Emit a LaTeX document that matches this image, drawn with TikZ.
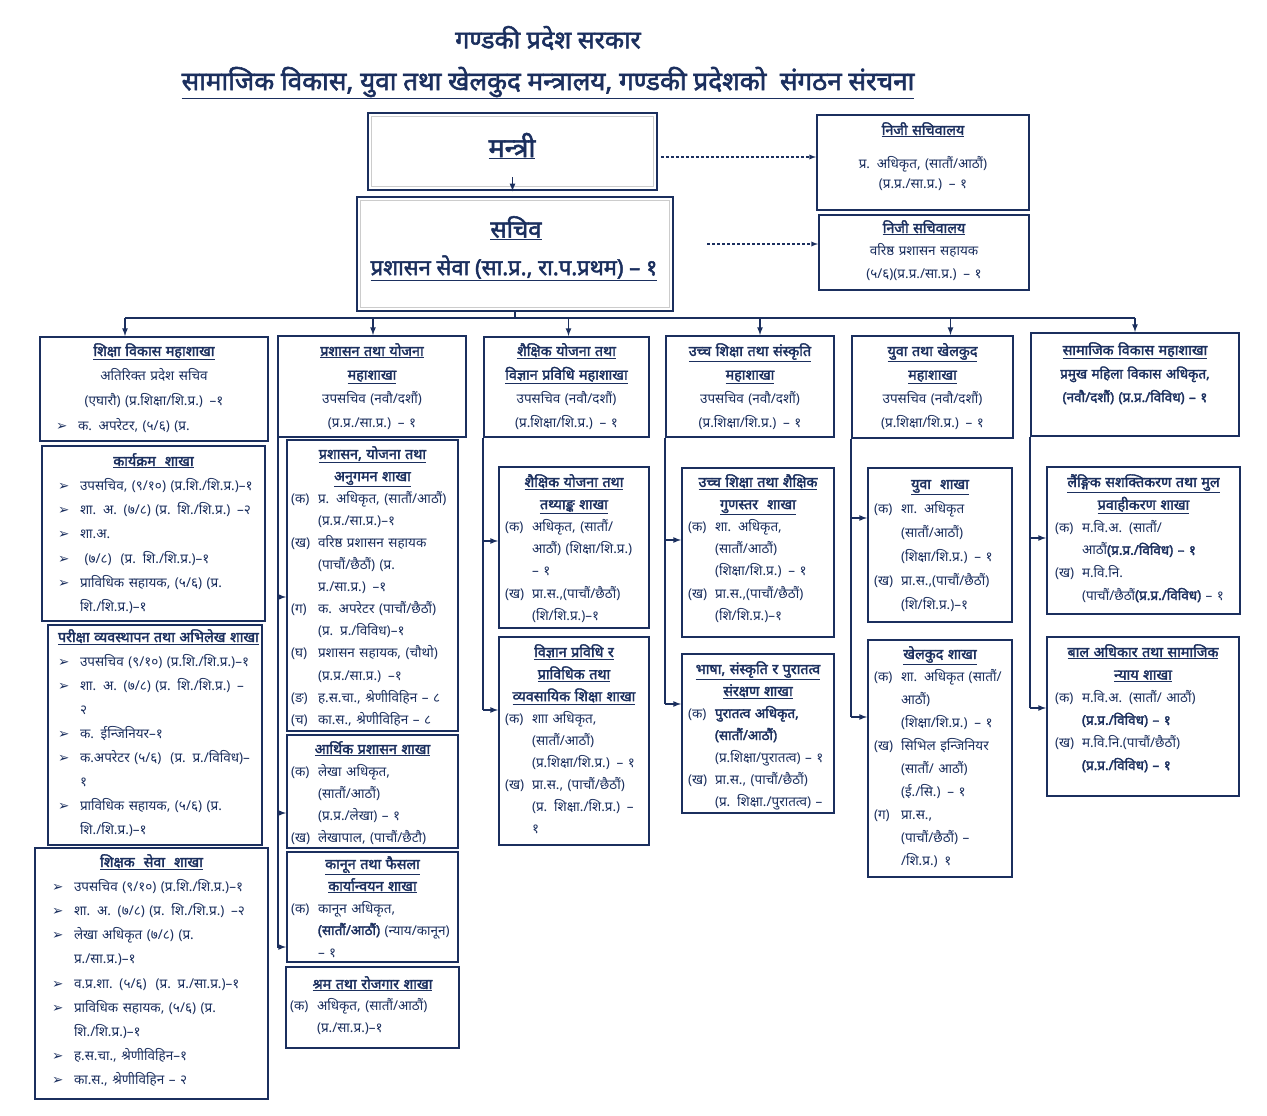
\documentclass[tikz,border=0pt]{standalone}
\usepackage{fontspec}
\setmainfont[Script=Devanagari, AutoFakeBold=2.2]{Noto Sans}
\newfontfamily\symfont{DejaVu Sans}
\usepackage{xcolor}
\usepackage{tikz}
\usetikzlibrary{fit}

\definecolor{navy}{HTML}{1B2F5E}

% lines inside the boxes
\newcommand{\hd}[1]{{\fontsize{14.3}{\baselineskip}\selectfont\textbf{\underline{#1}}}}
\newcommand{\lb}[2]{\makebox[\linewidth][l]{\makebox[27pt][l]{#1}#2}}
\newcommand{\ct}[1]{\makebox[\linewidth][l]{\hspace*{27pt}#1}}
\newcommand{\bl}[1]{\makebox[\linewidth][l]{\makebox[22pt][l]{\symfont ➢}#1}}

\tikzset{
  box/.style={draw=navy, line width=2pt, inner sep=0pt},
  headbox/.style={draw=navy, line width=2.6pt, inner sep=0pt},
  txt/.style={text=navy, align=center, inner sep=0pt, anchor=base,
    font=\fontsize{13.5}{#1}\selectfont},
  txt/.default=23,
  link/.style={draw=navy, line width=1.6pt},
  linkarr/.style={link, -latex},
  dasharr/.style={draw=navy, line width=1.3pt, dash pattern=on 3pt off 2pt, -latex},
}

\begin{document}
\begin{tikzpicture}[x=1pt, y=-1pt]
\useasboundingbox (0,0) rectangle (1267,1116);

% titles
\node[text=navy, font=\fontsize{25}{28}\selectfont\bfseries] (gov) at (548,38) {गण्डकी प्रदेश सरकार};
\node[text=navy, font=\fontsize{26}{29}\selectfont\bfseries] (org) at (548,83) {\underline{सामाजिक विकास, युवा तथा खेलकुद मन्त्रालय, गण्डकी प्रदेशको\ \ संगठन संरचना}};

% minister and secretary
\node[headbox, fit={(368,113) (657,190)}] (min) {};
\draw[gray!40, line width=1pt] (371.5,116.5) rectangle (653.5,186.5);
\node[text=navy, font=\fontsize{27}{29}\selectfont\bfseries] (mint) at (512,146) {\underline{मन्त्री}};
\node[headbox, fit={(357,197) (673,311)}] (sec) {};
\draw[gray!40, line width=1pt] (360.5,200.5) rectangle (669.5,307.5);
\node[text=navy, font=\fontsize{24}{26}\selectfont\bfseries] (sect1) at (516,228) {\underline{सचिव}};
\node[text=navy, font=\fontsize{22}{24}\selectfont\bfseries] (sect2) at (514,268) {\underline{प्रशासन सेवा (सा.प्र., रा.प.प्रथम) – १}};
\draw[linkarr] ([yshift=14pt]min.south) -- (min.south);

% private secretariats
\node[box, fit={(817,115) (1029,210)}] (ps1) {};
\node[txt=21, text width=200pt] (ps1t) at (923,135) {\hd{निजी सचिवालय}\\[12pt] प्र. अधिकृत, (सातौं/आठौं)\\ (प्र.प्र./सा.प्र.) – १};
\node[box, fit={(819,215) (1029,290)}] (ps2) {};
\node[txt=22.5, text width=200pt] (ps2t) at (924,233) {\hd{निजी सचिवालय}\\ वरिष्ठ प्रशासन सहायक\\ (५/६)(प्र.प्र./सा.प्र.) – १};
\draw[dasharr] ([xshift=3pt]min.east |- 0,157) -- (ps1.west |- 0,157);
\draw[dasharr] ([xshift=33pt]sec.east |- 0,244) -- (ps2.west |- 0,244);

% divisions
\node[box, fit={(40,337) (268,441)}] (b1) {};
\node[txt=24.7, text width=196pt] (b1t) at (154,356) {\hd{शिक्षा विकास महाशाखा}\\ अतिरिक्त प्रदेश सचिव\\ (एघारौ) (प्र.शिक्षा/शि.प्र.) –१\\ \bl{क. अपरेटर, (५/६) (प्र.}};
\node[box, fit={(278,336) (466,437)}] (b2) {};
\node[txt=23.7, text width=176pt] (b2t) at (372,356) {\hd{प्रशासन तथा योजना}\\ \hd{महाशाखा}\\ उपसचिव (नवौ/दशौं)\\ (प्र.प्र./सा.प्र.) – १};
\node[box, fit={(484,337) (649,437)}] (b3) {};
\node[txt=23.7, text width=157pt] (b3t) at (566.5,356) {\hd{शैक्षिक योजना तथा}\\ \hd{विज्ञान प्रविधि महाशाखा}\\ उपसचिव (नवौ/दशौं)\\ (प्र.शिक्षा/शि.प्र.) – १};
\node[box, fit={(666,336) (834,437)}] (b4) {};
\node[txt=23.7, text width=160pt] (b4t) at (750,356) {\hd{उच्च शिक्षा तथा संस्कृति}\\ \hd{महाशाखा}\\ उपसचिव (नवौ/दशौं)\\ (प्र.शिक्षा/शि.प्र.) – १};
\node[box, fit={(852,336) (1013,438)}] (b5) {};
\node[txt=23.7, text width=153pt] (b5t) at (932.5,356) {\hd{युवा तथा खेलकुद}\\ \hd{महाशाखा}\\ उपसचिव (नवौ/दशौं)\\ (प्र.शिक्षा/शि.प्र.) – १};
\node[box, fit={(1031,333) (1239,436)}] (b6) {};
\node[txt=23.5, text width=196pt] (b6t) at (1135,355) {\hd{सामाजिक विकास महाशाखा}\\ \textbf{प्रमुख महिला विकास अधिकृत,}\\ \textbf{(नवौ/दशौं) (प्र.प्र./विविध) – १}};

% bus from the secretary
\draw[link] (sec.south) -- (sec.south |- 0,318);
\draw[link] (125,318) -- (b6.north |- 0,318);
\foreach \b/\dx in {b1/-29, b2/1, b3/2, b4/10, b5/18, b6/0}
  \draw[linkarr] ([xshift=\dx pt]\b.north |- 0,318) -- ([xshift=\dx pt]\b.north);

% column 1
\node[box, fit={(42,446) (265,621)}] (s1a) {};
\node[txt=24.3, text width=191pt] (s1at) at (153.5,466) {\hd{कार्यक्रम\ \ शाखा}\\ \bl{उपसचिव, (९/१०) (प्र.शि./शि.प्र.)–१}\\ \bl{शा. अ. (७/८) (प्र. शि./शि.प्र.) –२}\\ \bl{शा.अ.}\\ \bl{\ (७/८)\ \ (प्र. शि./शि.प्र.)–१}\\ \bl{प्राविधिक सहायक, (५/६) (प्र.}\\ \ct{\hspace*{-5pt}शि./शि.प्र.)–१}};
\node[box, fit={(48,625) (262,845)}] (s1b) {};
\node[txt=24.1, text width=194pt] (s1bt) at (155,642) {\hd{परीक्षा व्यवस्थापन तथा अभिलेख शाखा}\\ \bl{उपसचिव (९/१०) (प्र.शि./शि.प्र.)–१}\\ \bl{शा. अ. (७/८) (प्र. शि./शि.प्र.) –}\\ \ct{\hspace*{-5pt}२}\\ \bl{क. ईन्जिनियर–१}\\ \bl{क.अपरेटर (५/६)\ \ (प्र. प्र./विविध)–}\\ \ct{\hspace*{-5pt}१}\\ \bl{प्राविधिक सहायक, (५/६) (प्र.}\\ \ct{\hspace*{-5pt}शि./शि.प्र.)–१}};
\node[box, fit={(35,848) (268,1099)}] (s1c) {};
\node[txt=24.2, text width=199pt] (s1ct) at (151.5,867) {\hd{शिक्षक\ \ सेवा\ \ शाखा}\\ \bl{उपसचिव (९/१०) (प्र.शि./शि.प्र.)–१}\\ \bl{शा. अ. (७/८) (प्र. शि./शि.प्र.) –२}\\ \bl{लेखा अधिकृत (७/८) (प्र.}\\ \ct{\hspace*{-5pt}प्र./सा.प्र.)–१}\\ \bl{व.प्र.शा. (५/६)\ \ (प्र. प्र./सा.प्र.)–१}\\ \bl{प्राविधिक सहायक, (५/६) (प्र.}\\ \ct{\hspace*{-5pt}शि./शि.प्र.)–१}\\ \bl{ह.स.चा., श्रेणीविहिन–१}\\ \bl{का.स., श्रेणीविहिन – २}};

% column 2
\node[box, fit={(287,440) (458,731)}] (s2a) {};
\node[txt=22.1, text width=163pt] (s2at) at (372.5,459) {\hd{प्रशासन, योजना तथा}\\ \hd{अनुगमन शाखा}\\ \lb{(क)}{प्र. अधिकृत, (सातौं/आठौं)}\\ \ct{(प्र.प्र./सा.प्र.)–१}\\ \lb{(ख)}{वरिष्ठ प्रशासन सहायक}\\ \ct{(पाचौं/छैठौं) (प्र.}\\ \ct{प्र./सा.प्र.) –१}\\ \lb{(ग)}{क. अपरेटर (पाचौं/छैठौं)}\\ \ct{(प्र. प्र./विविध)–१}\\ \lb{(घ)}{प्रशासन सहायक, (चौथो)}\\ \ct{(प्र.प्र./सा.प्र.) –१}\\ \lb{(ङ)}{ह.स.चा., श्रेणीविहिन – ८}\\ \lb{(च)}{का.स., श्रेणीविहिन – ८}};
\node[box, fit={(287,735) (458,848)}] (s2b) {};
\node[txt=22, text width=163pt] (s2bt) at (372.5,754) {\hd{आर्थिक प्रशासन शाखा}\\ \lb{(क)}{लेखा अधिकृत,}\\ \ct{(सातौं/आठौं)}\\ \ct{(प्र.प्र./लेखा) – १}\\ \lb{(ख)}{लेखापाल, (पाचौं/छैटौ)}};
\node[box, fit={(287,852) (458,962)}] (s2c) {};
\node[txt=22, text width=163pt] (s2ct) at (372.5,869) {\hd{कानून तथा फैसला}\\ \hd{कार्यान्वयन शाखा}\\ \lb{(क)}{कानून अधिकृत,}\\ \ct{\textbf{(सातौं/आठौं)} (न्याय/कानून)}\\ \ct{– १}};
\node[box, fit={(286,967) (459,1048)}] (s2d) {};
\node[txt=21.5, text width=165pt] (s2dt) at (372.5,989) {\hd{श्रम तथा रोजगार शाखा}\\ \lb{(क)}{अधिकृत, (सातौं/आठौं)}\\ \ct{(प्र./सा.प्र.)–१}};
\draw[link] ([xshift=1pt]b2.south west) -- ([xshift=1pt]b2.south west |- 0,948);
\foreach \s/\y in {s2a/597, s2b/813, s2c/947}
  \draw[linkarr] ([xshift=1pt]b2.south west |- 0,\y) -- (\s.west |- 0,\y);

% column 3
\node[box, fit={(499,467) (649,628)}] (s3a) {};
\node[txt=22.2, text width=138pt] (s3at) at (574,487) {\hd{शैक्षिक योजना तथा}\\ \hd{तथ्याङ्क शाखा}\\ \lb{(क)}{अधिकृत, (सातौं/}\\ \ct{आठौं) (शिक्षा/शि.प्र.)}\\ \ct{– १}\\ \lb{(ख)}{प्रा.स.,(पाचौं/छैठौं)}\\ \ct{(शि/शि.प्र.)–१}};
\node[box, fit={(499,637) (649,845)}] (s3b) {};
\node[txt=22.1, text width=138pt] (s3bt) at (574,657) {\hd{विज्ञान प्रविधि र}\\ \hd{प्राविधिक तथा}\\ \hd{व्यवसायिक शिक्षा शाखा}\\ \lb{(क)}{शाा अधिकृत,}\\ \ct{(सातौं/आठौं)}\\ \ct{(प्र.शिक्षा/शि.प्र.) – १}\\ \lb{(ख)}{प्रा.स., (पाचौं/छैठौं)}\\ \ct{(प्र. शिक्षा./शि.प्र.) –}\\ \ct{१}};
\draw[link] (b3.south west) -- (b3.south west |- 0,710);
\foreach \s/\y in {s3a/541, s3b/710}
  \draw[linkarr] (b3.south west |- 0,\y) -- (\s.west |- 0,\y);

% column 4
\node[box, fit={(682,468) (834,637)}] (s4a) {};
\node[txt=22.2, text width=140pt] (s4at) at (758,487) {\hd{उच्च शिक्षा तथा शैक्षिक}\\ \hd{गुणस्तर\ \ शाखा}\\ \lb{(क)}{शा. अधिकृत,}\\ \ct{(सातौं/आठौं)}\\ \ct{(शिक्षा/शि.प्र.) – १}\\ \lb{(ख)}{प्रा.स.,(पाचौं/छैठौं)}\\ \ct{(शि/शि.प्र.)–१}};
\node[box, fit={(682,654) (834,813)}] (s4b) {};
\node[txt=22, text width=140pt] (s4bt) at (758,674) {\hd{भाषा, संस्कृति र पुरातत्व}\\ \hd{संरक्षण शाखा}\\ \lb{(क)}{\textbf{पुरातत्व अधिकृत,}}\\ \ct{\textbf{(सातौं/आठौं)}}\\ \ct{(प्र.शिक्षा/पुरातत्व) – १}\\ \lb{(ख)}{प्रा.स., (पाचौं/छैठौं)}\\ \ct{(प्र. शिक्षा./पुरातत्व) –}};
\draw[link] (b4.south west) -- (b4.south west |- 0,704);
\foreach \s/\y in {s4a/540, s4b/704}
  \draw[linkarr] (b4.south west |- 0,\y) -- (\s.west |- 0,\y);

% column 5
\node[box, fit={(868,468) (1012,622)}] (s5a) {};
\node[txt=24, text width=132pt] (s5at) at (940,489) {\hd{युवा\ \ शाखा}\\ \lb{(क)}{शा. अधिकृत}\\ \ct{(सातौं/आठौं)}\\ \ct{(शिक्षा/शि.प्र.) – १}\\ \lb{(ख)}{प्रा.स.,(पाचौं/छैठौं)}\\ \ct{(शि/शि.प्र.)–१}};
\node[box, fit={(868,640) (1012,877)}] (s5b) {};
\node[txt=22.9, text width=132pt] (s5bt) at (940,659) {\hd{खेलकुद शाखा}\\ \lb{(क)}{शा. अधिकृत (सातौं/}\\ \ct{आठौं)}\\ \ct{(शिक्षा/शि.प्र.) – १}\\ \lb{(ख)}{सिभिल इन्जिनियर}\\ \ct{(सातौं/ आठौं)}\\ \ct{(ई./सि.) – १}\\ \lb{(ग)}{प्रा.स.,}\\ \ct{(पाचौं/छैठौं) –}\\ \ct{/शि.प्र.) १}};
\draw[link] (b5.south west) -- (b5.south west |- 0,717);
\foreach \s/\y in {s5a/518, s5b/717}
  \draw[linkarr] (b5.south west |- 0,\y) -- (\s.west |- 0,\y);

% column 6
\node[box, fit={(1047,467) (1240,614)}] (s6a) {};
\node[txt=22.6, text width=177pt] (s6at) at (1143.5,487) {\hd{लैंङ्गिक सशक्तिकरण तथा मुल}\\ \hd{प्रवाहीकरण शाखा}\\ \lb{(क)}{म.वि.अ. (सातौं/}\\ \ct{आठौं\textbf{(प्र.प्र./विविध) – १}}\\ \lb{(ख)}{म.वि.नि.}\\ \ct{(पाचौं/छैठौं\textbf{(प्र.प्र./विविध)} – १}};
\node[box, fit={(1047,637) (1239,796)}] (s6b) {};
\node[txt=22.6, text width=176pt] (s6bt) at (1143,657) {\hd{बाल अधिकार तथा सामाजिक}\\ \hd{न्याय शाखा}\\ \lb{(क)}{म.वि.अ. (सातौं/ आठौं)}\\ \ct{\textbf{(प्र.प्र./विविध) – १}}\\ \lb{(ख)}{म.वि.नि.(पाचौं/छैठौं)}\\ \ct{\textbf{(प्र.प्र./विविध) – १}}};
\draw[link] (b6.south west) -- (b6.south west |- 0,708);
\foreach \s/\y in {s6a/538, s6b/708}
  \draw[linkarr] (b6.south west |- 0,\y) -- (\s.west |- 0,\y);
\end{tikzpicture}
\end{document}
